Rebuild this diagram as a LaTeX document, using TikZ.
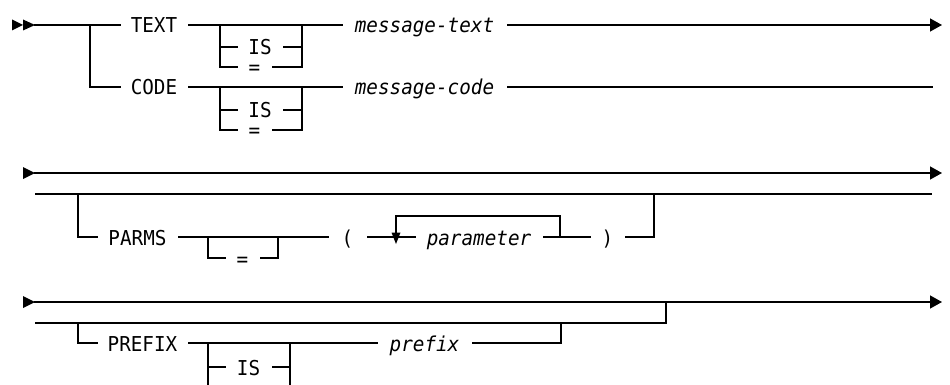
\documentclass[tikz,border=0pt]{standalone}
\usepackage{fontspec}
\usetikzlibrary{arrows.meta}
\newfontfamily\diagfont[FakeStretch=0.94]{DejaVu Sans Mono}
\tikzset{
  rail/.style={line width=1.4pt, line cap=rect},
  endarrow/.style={rail, -{Triangle[length=12pt,width=13pt]}},
  lbl/.style={inner sep=0pt, text height=16pt, text depth=0pt,
    font=\diagfont\fontsize{20.5}{21}\selectfont},
  var/.style={lbl, font=\diagfont\itshape\fontsize{20.5}{21}\selectfont},
}
\begin{document}
\begin{tikzpicture}[x=1pt,y=-1pt]
\useasboundingbox (0,0) rectangle (950,385);
\clip (0,0) rectangle (950,385);
\fill[white] (0,0) rectangle (950,385);

% ---------- first statement line: TEXT / CODE ----------
\fill (12,19.5) -- (23,25) -- (12,30.5) -- cycle;
\fill (23,19.5) -- (35,25) -- (23,30.5) -- cycle;
\coordinate (r1s) at (35,25);
\coordinate (r1e) at (942,25);
\coordinate (r1c) at (932,87);
\coordinate (j1) at (90,25);
\coordinate (j1b) at (90,87);

\node[lbl, minimum width=68pt] (kwText) at (154,25) {TEXT};
\node[lbl, minimum width=68pt] (kwCode) at (154,87) {CODE};
\node[lbl, minimum width=46pt] (is1) at (260,47) {IS};
\node[lbl, minimum width=35pt] (eq1) at (254.5,67) {=};
\node[lbl, minimum width=46pt] (is2) at (260,110) {IS};
\node[lbl, minimum width=35pt] (eq2) at (254.5,130) {=};
\node[var, minimum width=165pt] (msgText) at (424.5,25) {message-text};
\node[var, minimum width=165pt] (msgCode) at (424.5,87) {message-code};

\draw[rail] (r1s) -- (kwText.west);
\draw[rail] (j1) -- (j1b) -- (kwCode.west);
\draw[rail] (kwText.east) -- (msgText.west);
\draw[rail] (kwCode.east) -- (msgCode.west);
\draw[endarrow] (msgText.east) -- (r1e);
\draw[rail] (msgCode.east) -- (r1c);

\coordinate (b1tl) at (220,25);  \coordinate (b1bl) at (220,67);
\coordinate (b1tr) at (302,25);  \coordinate (b1br) at (302,67);
\draw[rail] (b1tl) |- (is1.west);
\draw[rail] (b1tl) -- (b1bl) -- (eq1.west);
\draw[rail] (is1.east) -| (b1tr);
\draw[rail] (eq1.east) -- (b1br) -- (b1tr);

\coordinate (b2tl) at (220,87);  \coordinate (b2bl) at (220,130);
\coordinate (b2tr) at (302,87);  \coordinate (b2br) at (302,130);
\draw[rail] (b2tl) |- (is2.west);
\draw[rail] (b2tl) -- (b2bl) -- (eq2.west);
\draw[rail] (is2.east) -| (b2tr);
\draw[rail] (eq2.east) -- (b2br) -- (b2tr);

% ---------- second line: PARMS ----------
\fill (23,167) -- (35,173) -- (23,179) -- cycle;
\coordinate (r2s) at (35,173);
\coordinate (r2e) at (942,173);
\coordinate (r2a) at (36,194);
\coordinate (r2b) at (931,194);
\draw[endarrow] (r2s) -- (r2e);
\draw[rail] (r2a) -- (r2b);

\node[lbl, minimum width=81pt] (kwParms) at (137.5,237) {PARMS};
\node[lbl, minimum width=35pt] (eqP) at (242.5,258) {=};
\node[lbl, minimum width=39pt] (lpar) at (347.5,237) {(};
\node[var, minimum width=128pt] (param) at (479,237) {parameter};
\node[lbl, minimum width=35pt] (rpar) at (607.5,237) {)};

\coordinate (pj) at (78,194);
\coordinate (pbl) at (208,237);
\coordinate (pbr) at (278,237);
\coordinate (loopA) at (396,233);
\coordinate (loopB) at (396,216);
\coordinate (loopC) at (560,216);
\coordinate (loopD) at (560,237);
\coordinate (pout) at (654,194);

\draw[rail] (pj) |- (kwParms.west);
\draw[rail] (kwParms.east) -- (lpar.west);
\draw[rail] (pbl) |- (eqP.west);
\draw[rail] (eqP.east) -| (pbr);
\draw[rail] (lpar.east) -- (param.west);
\draw[rail] (loopA) -- (loopB) -- (loopC) -- (loopD);
\fill (391.5,232.5) -- (400.5,232.5) -- (396,244) -- cycle;
\draw[rail] (param.east) -- (rpar.west);
\draw[rail] (rpar.east) -| (pout);

% ---------- third line: PREFIX ----------
\fill (23,296) -- (35,302) -- (23,308) -- cycle;
\coordinate (r3s) at (35,302);
\coordinate (r3e) at (942,302);
\coordinate (r3a) at (36,323);
\coordinate (r3b) at (666,323);
\coordinate (r3j) at (666,302);
\draw[endarrow] (r3s) -- (r3e);
\draw[rail] (r3a) -- (r3b) -- (r3j);

\node[lbl, minimum width=91pt] (kwPrefix) at (142.5,343) {PREFIX};
\node[lbl, minimum width=47pt] (is3) at (248.5,367) {IS};
\node[lbl, minimum width=35pt] (eq3) at (242.5,388) {=};
\node[var, minimum width=95pt] (prefix) at (424.5,343) {prefix};

\coordinate (xj) at (78,323);
\coordinate (b3tl) at (208,343);  \coordinate (b3bl) at (208,388);
\coordinate (b3tr) at (290,343);  \coordinate (b3br) at (290,388);
\coordinate (xout) at (561,323);

\draw[rail] (xj) |- (kwPrefix.west);
\draw[rail] (kwPrefix.east) -- (prefix.west);
\draw[rail] (prefix.east) -| (xout);
\draw[rail] (b3tl) |- (is3.west);
\draw[rail] (b3tl) -- (b3bl) -- (eq3.west);
\draw[rail] (is3.east) -| (b3tr);
\draw[rail] (eq3.east) -- (b3br) -- (b3tr);
\end{tikzpicture}
\end{document}
